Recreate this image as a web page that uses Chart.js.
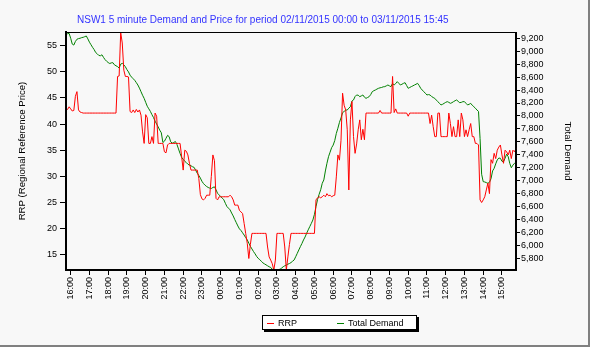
<!DOCTYPE html>
<html>
<head>
<meta charset="utf-8">
<script src="https://cdn.jsdelivr.net/npm/chart.js@4.4.0/dist/chart.umd.min.js"></script>
<style>
  body { margin: 0; background: #ffffff; }
  #wrap { position: relative; width: 590px; height: 347px; background: #f8f8f8; overflow: hidden; }
  #chart { position: absolute; left: 0; top: 0; }
  #title { position: absolute; left: 77px; top: 14px; font: 10px Arial, "Liberation Sans", sans-serif; color: #3333ff; white-space: nowrap; }
  #legend { position: absolute; left: 262px; top: 315px; width: 153px; height: 13px; background: #ffffff;
            border: 1px solid #000; box-shadow: 2px 2px 0 #000; font: 9px Arial, "Liberation Sans", sans-serif; color: #000; }
  .item { position: absolute; top: 1px; line-height: 12px; white-space: nowrap; }
  .dash { display: inline-block; width: 7px; height: 1px; vertical-align: middle; margin-right: 4px; }
  #edgeR { position: absolute; right: 0; top: 0; width: 2px; height: 347px; background: #808080; }
  #edgeB { position: absolute; left: 0; bottom: 0; width: 590px; height: 2px; background: #808080; }
</style>
</head>
<body>
<div id="wrap">
  <canvas id="chart" width="590" height="347"></canvas>
  <div id="title">NSW1 5 minute Demand and Price for period 02/11/2015 00:00 to 03/11/2015 15:45</div>
  <div id="legend"></div>
  <div id="edgeR"></div>
  <div id="edgeB"></div>
</div>
<script>
// 5 minute intervals, 15:45 on 02/11 through 15:45 on 03/11
const times = [];
for (let m = 15 * 60 + 45; m <= 39 * 60 + 45; m += 5) {
  const h = Math.floor(m / 60) % 24, mm = m % 60;
  times.push(String(h).padStart(2, '0') + ':' + String(mm).padStart(2, '0'));
}

// RRP ($/MWh), one row per hour
const rrp = [
  42.6, 42.8, 43.3, 42.9, 42.5, 42.6, 45.3, 46.2, 42.7, 42.3, 42.2, 42.1,
  42.1, 42.1, 42.1, 42.1, 42.1, 42.1, 42.1, 42.1, 42.1, 42.1, 42.1, 42.1,
  42.1, 42.1, 42.1, 42.1, 42.1, 42.1, 42.1, 42.1, 42.1, 49.1, 49.2, 57.5,
  55.5, 50.3, 49.1, 49.1, 49.0, 42.4, 42.2, 42.7, 42.2, 42.8, 42.3, 42.7,
  41.7, 38.5, 36.3, 41.8, 41.2, 36.3, 36.3, 37.6, 36.3, 42.1, 41.5, 36.3,
  36.3, 36.3, 36.3, 34.7, 34.5, 36.0, 36.3, 36.3, 36.3, 36.3, 36.3, 36.3,
  36.3, 36.3, 33.8, 31.2, 35.0, 34.8, 34.1, 32.5, 31.2, 31.2, 31.2, 31.2,
  31.2, 29.6, 26.5, 25.7, 25.5, 25.8, 26.4, 26.4, 26.4, 30.0, 34.1, 33.0,
  25.8, 25.5, 26.1, 26.1, 26.1, 26.1, 26.1, 26.1, 26.1, 26.4, 26.1, 25.5,
  24.5, 24.5, 24.5, 23.5, 23.2, 22.9, 21.0, 19.1, 17.2, 14.3, 17.0, 19.1,
  19.1, 19.1, 19.1, 19.1, 19.1, 19.1, 19.1, 19.1, 19.1, 16.5, 14.6, 14.0,
  13.3, 12.1, 14.0, 19.1, 19.1, 19.1, 19.1, 19.1, 16.5, 12.1, 14.6, 17.0,
  19.1, 19.1, 19.1, 19.1, 19.1, 19.1, 19.1, 19.1, 19.1, 19.1, 19.1, 19.1,
  19.1, 19.1, 19.1, 19.1, 25.5, 25.9, 26.1, 25.9, 26.1, 26.4, 26.1, 26.7,
  26.3, 26.4, 26.1, 26.3, 26.4, 29.9, 34.1, 33.1, 36.9, 45.9, 43.6, 42.7,
  38.9, 27.4, 40.8, 44.3, 37.6, 34.4, 36.2, 38.9, 40.8, 37.0, 39.0, 37.0,
  42.1, 42.1, 42.1, 42.1, 42.1, 42.1, 42.1, 42.1, 42.1, 42.6, 42.1, 42.1,
  42.1, 42.1, 42.1, 42.1, 42.1, 49.1, 42.2, 42.9, 42.1, 42.1, 42.1, 42.1,
  42.1, 42.1, 42.1, 41.5, 42.1, 42.1, 42.1, 42.1, 42.1, 42.1, 42.1, 42.1,
  42.1, 42.1, 42.1, 42.1, 42.1, 40.1, 41.7, 39.5, 37.6, 37.6, 42.1, 42.1,
  37.6, 37.6, 37.6, 37.6, 37.6, 42.1, 40.1, 37.6, 39.5, 37.6, 37.6, 40.8,
  37.6, 42.1, 40.8, 37.6, 38.9, 37.6, 38.9, 40.1, 37.6, 37.6, 36.3, 36.3,
  36.0, 25.5, 25.0, 25.5, 26.1, 27.4, 28.7, 26.7, 33.2, 32.5, 34.4, 33.4,
  35.0, 35.6, 36.0, 34.1, 32.5, 35.0, 34.7, 34.1, 35.0, 33.4, 35.0, 34.7,
  35.3
];

// Total demand (MW), one row per hour
const demand = [
  9265, 9270, 9275, 9200, 9110, 9095, 9150, 9185, 9195, 9200, 9210, 9215,
  9225, 9235, 9190, 9140, 9100, 9060, 9025, 8980, 8960, 8935, 8930, 8945,
  8905, 8870, 8845, 8825, 8810, 8820, 8823, 8790, 8775, 8762, 8740, 8800,
  8813, 8790, 8760, 8715, 8680, 8630, 8600, 8575, 8550, 8515, 8478, 8430,
  8375, 8320, 8272, 8210, 8150, 8110, 8070, 8020, 7975, 7920, 7875, 7830,
  7780, 7740, 7590, 7610, 7655, 7700, 7680, 7600, 7580, 7590, 7605, 7560,
  7490, 7420, 7360, 7330, 7300, 7280, 7255, 7240, 7230, 7215, 7205, 7160,
  7115, 7080, 7040, 6990, 6955, 6930, 6910, 6895, 6885, 6880, 6895, 6905,
  6860, 6805, 6780, 6755, 6730, 6705, 6650, 6600, 6575, 6550, 6500, 6455,
  6400, 6350, 6300, 6255, 6230, 6195, 6160, 6120, 6085, 6035, 5985, 5945,
  5905, 5870, 5830, 5800, 5780, 5755, 5730, 5715, 5700, 5685, 5670, 5660,
  5630, 5635, 5625, 5622, 5626, 5632, 5650, 5670, 5685, 5697, 5710, 5720,
  5735, 5755, 5775, 5825, 5877, 5930, 5981, 6030, 6084, 6130, 6187, 6240,
  6290, 6340, 6393, 6480, 6600, 6710, 6790, 6860, 6960, 7011, 7150, 7268,
  7370, 7440, 7510, 7550, 7620, 7730, 7810, 7900, 7970, 8050, 8070, 8090,
  8092, 8120, 8143, 8230, 8247, 8300, 8324, 8320, 8298, 8310, 8324, 8290,
  8272, 8285, 8298, 8330, 8375, 8390, 8401, 8415, 8427, 8435, 8440, 8450,
  8453, 8465, 8478, 8465, 8453, 8504, 8478, 8500, 8530, 8505, 8478, 8490,
  8504, 8514, 8470, 8427, 8440, 8453, 8465, 8478, 8490, 8504, 8470, 8427,
  8400, 8375, 8350, 8324, 8330, 8324, 8300, 8285, 8272, 8245, 8221, 8195,
  8170, 8180, 8195, 8210, 8221, 8210, 8195, 8205, 8221, 8235, 8247, 8225,
  8205, 8210, 8221, 8221, 8195, 8170, 8180, 8195, 8165, 8143, 8120, 8092,
  8070, 7650, 7100, 6985, 6980, 6970, 6960, 6975, 7030, 7150, 7191, 7260,
  7320, 7350, 7346, 7300, 7294, 7346, 7410, 7371, 7268, 7200, 7240, 7268,
  7280
];

const priceTicks = [15, 20, 25, 30, 35, 40, 45, 50, 55];
const demandTicks = [5800, 6000, 6200, 6400, 6600, 6800, 7000, 7200, 7400, 7600,
                     7800, 8000, 8200, 8400, 8600, 8800, 9000, 9200];

const FONT = 'Arial, "Liberation Sans", sans-serif';

// thin frame round the plot (top and right edges)
const frame = {
  id: 'frame',
  afterDatasetsDraw(c) {
    const a = c.chartArea, g = c.ctx;
    g.save();
    g.strokeStyle = '#000';
    g.lineWidth = 1;
    g.strokeRect(a.left + 0.5, a.top + 0.5, a.right - a.left - 1, a.bottom - a.top - 1);
    g.restore();
  }
};

const series = [
  { label: 'RRP', data: rrp, yAxisID: 'y', borderColor: '#ff0000' },
  { label: 'Total Demand', data: demand, yAxisID: 'y1', borderColor: '#008000' }
];

new Chart(document.getElementById('chart'), {
  type: 'line',
  data: {
    labels: times,
    datasets: series.map(s => Object.assign({ borderWidth: 1, pointRadius: 0, tension: 0, fill: false }, s))
  },
  options: {
    responsive: false,
    animation: false,
    layout: { padding: { top: 32, left: 0, right: 0, bottom: 0 } },
    plugins: { legend: { display: false }, tooltip: { enabled: false } },
    scales: {
      x: {
        type: 'category',
        offset: false,
        border: { color: '#000', width: 2 },
        grid: { drawOnChartArea: false, tickLength: 5, color: '#000', tickColor: '#000' },
        ticks: {
          autoSkip: false, maxRotation: 90, minRotation: 90, padding: 2,
          color: '#000', font: { family: FONT, size: 9 },
          callback: v => times[v].endsWith(':00') ? times[v] : null
        },
        afterFit: s => { s.height = 77; }
      },
      y: {
        position: 'left',
        min: 12.1, max: 57.6,
        afterBuildTicks: s => { s.ticks = priceTicks.map(v => ({ value: v })); },
        border: { color: '#000', width: 2 },
        grid: { drawOnChartArea: false, tickLength: 6, tickColor: '#000' },
        ticks: { padding: 3, color: '#000', font: { family: FONT, size: 9 } },
        title: { display: true, text: 'RRP (Regional Reference Price)', color: '#000',
                 font: { family: FONT, size: 9.6 }, padding: { top: 17, bottom: 0 } },
        afterFit: s => { s.width = 66; }
      },
      y1: {
        position: 'right',
        min: 5620, max: 9297,
        afterBuildTicks: s => { s.ticks = demandTicks.map(v => ({ value: v })); },
        border: { color: '#000', width: 1 },
        grid: { drawOnChartArea: false, tickLength: 4, tickColor: '#000' },
        ticks: { padding: 1, color: '#000', font: { family: FONT, size: 9 },
                 callback: v => v.toLocaleString('en-US') },
        title: { display: true, text: 'Total Demand', color: '#000',
                 font: { family: FONT, size: 9.6 }, padding: { top: 17, bottom: 0 } },
        afterFit: s => { s.width = 74; }
      }
    }
  },
  plugins: [frame]
});

// legend box under the axis
const legend = document.getElementById('legend');
const slots = [4, 74];
series.forEach((s, i) => {
  const it = document.createElement('div');
  it.className = 'item';
  it.style.left = slots[i] + 'px';
  const d = document.createElement('span');
  d.className = 'dash';
  d.style.background = s.borderColor;
  it.appendChild(d);
  it.appendChild(document.createTextNode(s.label));
  legend.appendChild(it);
});
</script>
</body>
</html>
